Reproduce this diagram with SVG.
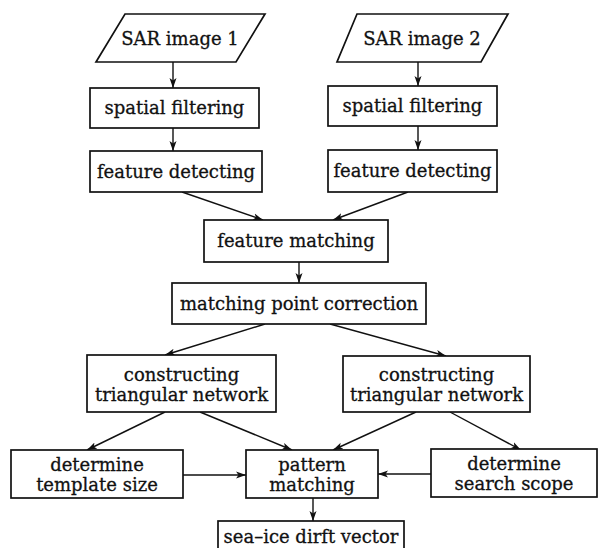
<svg xmlns="http://www.w3.org/2000/svg" width="598" height="548" viewBox="0 0 598 548">
<defs>
<marker id="ah" viewBox="0 0 10 8" refX="10" refY="4" markerWidth="10" markerHeight="8" markerUnits="userSpaceOnUse" orient="auto">
<path d="M0,0.5 L10,4 L0,7.5 L2.5,4 Z" fill="#111"/>
</marker>
<style>
.box{fill:#fff;stroke:#111;stroke-width:1.7}
.t{font-family:"DejaVu Serif","Liberation Serif",serif;font-size:18px;fill:#111;stroke:#111;stroke-width:0.3;text-anchor:middle}
.c{fill:none;stroke:#111;stroke-width:1.4;marker-end:url(#ah)}
</style>
</defs>
<rect width="598" height="548" fill="#fff"/>
<g id="connectors">
<line class="c" x1="173" y1="62" x2="173" y2="88"/>
<line class="c" x1="173" y1="128" x2="173" y2="151"/>
<line class="c" x1="418" y1="62" x2="418" y2="86"/>
<line class="c" x1="418" y1="126" x2="418" y2="150"/>
<line class="c" x1="182" y1="192" x2="263" y2="220"/>
<line class="c" x1="408" y1="192" x2="333" y2="220"/>
<line class="c" x1="299" y1="262" x2="299" y2="283"/>
<line class="c" x1="265" y1="324" x2="165" y2="355"/>
<line class="c" x1="330" y1="324" x2="446" y2="356"/>
<line class="c" x1="165" y1="412" x2="87" y2="450"/>
<line class="c" x1="200" y1="412" x2="292" y2="450"/>
<line class="c" x1="416" y1="412" x2="333" y2="450"/>
<line class="c" x1="450" y1="412" x2="521" y2="450"/>
<line class="c" x1="183" y1="475" x2="246" y2="475"/>
<line class="c" x1="431" y1="474" x2="378" y2="474"/>
<line class="c" x1="313" y1="498" x2="313" y2="521"/>
</g>
<g id="sar1">
<polygon class="box" points="125,14 265,14 236,62 96,62"/>
<text class="t" x="180" y="45">SAR image 1</text>
</g>
<g id="sar2">
<polygon class="box" points="357,14 508,14 481,62 337,62"/>
<text class="t" x="422" y="45">SAR image 2</text>
</g>
<g id="sf1">
<rect class="box" x="90" y="88" width="169" height="40"/>
<text class="t" x="174.5" y="114">spatial filtering</text>
</g>
<g id="sf2">
<rect class="box" x="328" y="86" width="169" height="40"/>
<text class="t" x="412.5" y="112">spatial filtering</text>
</g>
<g id="fd1">
<rect class="box" x="90" y="151" width="172" height="41"/>
<text class="t" x="176" y="178">feature detecting</text>
</g>
<g id="fd2">
<rect class="box" x="328" y="150" width="169" height="42"/>
<text class="t" x="412.5" y="177">feature detecting</text>
</g>
<g id="fm">
<rect class="box" x="204" y="220" width="184" height="42"/>
<text class="t" x="296" y="247">feature matching</text>
</g>
<g id="mpc">
<rect class="box" x="172" y="283" width="254" height="41"/>
<text class="t" x="299" y="310">matching point correction</text>
</g>
<g id="ctn1">
<rect class="box" x="87" y="355" width="189" height="57"/>
<text class="t" x="181.5" y="381">constructing</text>
<text class="t" x="181.5" y="401">triangular network</text>
</g>
<g id="ctn2">
<rect class="box" x="343" y="356" width="187" height="56"/>
<text class="t" x="436.5" y="381">constructing</text>
<text class="t" x="436.5" y="401">triangular network</text>
</g>
<g id="template">
<rect class="box" x="11" y="450" width="172" height="48"/>
<text class="t" x="97" y="471">determine</text>
<text class="t" x="97" y="491">template size</text>
</g>
<g id="pattern">
<rect class="box" x="246" y="450" width="132" height="48"/>
<text class="t" x="312" y="471">pattern</text>
<text class="t" x="312" y="491">matching</text>
</g>
<g id="search">
<rect class="box" x="431" y="449" width="166" height="48"/>
<text class="t" x="514" y="470">determine</text>
<text class="t" x="514" y="490">search scope</text>
</g>
<g id="seaice">
<rect class="box" x="218" y="521" width="186" height="40"/>
<text class="t" x="311" y="543">sea–ice dirft vector</text>
</g>
</svg>
